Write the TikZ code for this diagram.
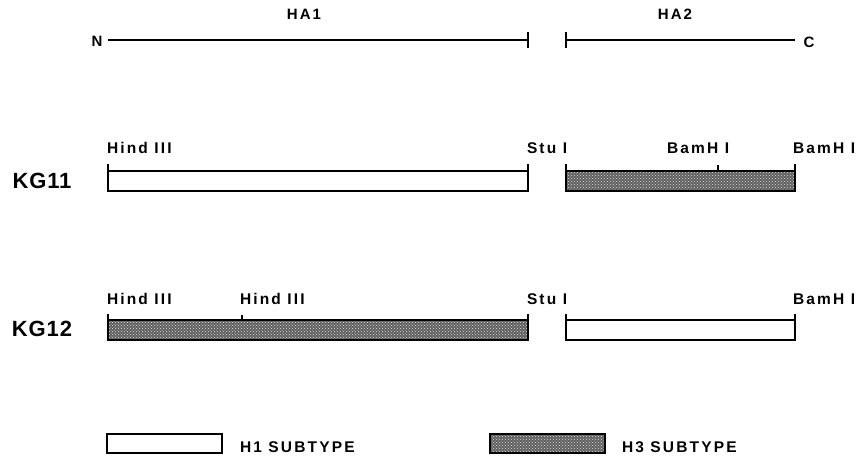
\documentclass[tikz,border=0pt]{standalone}
\usepackage{fontspec}
\newfontfamily\lblfont[LetterSpace=14]{Liberation Sans}
\newfontfamily\rowfont[LetterSpace=4]{Liberation Sans}
\usetikzlibrary{patterns}
\begin{document}
\begin{tikzpicture}[
                x=1pt, y=-1pt,
                line width=1.3pt,
                every node/.style={inner sep=0pt, outer sep=0pt},
                site/.style={anchor=base west, font=\lblfont\bfseries\fontsize{15.5}{16}\selectfont},
                term/.style={font=\lblfont\bfseries\fontsize{15}{16}\selectfont},
                rowlabel/.style={font=\rowfont\bfseries\fontsize{22}{24}\selectfont},
                hone/.style={draw, fill=white, anchor=north west, minimum height=20pt},
                hthree/.style={draw, anchor=north west, minimum height=20pt,
                    preaction={fill=black!62}, pattern=crosshatch dots, pattern color=white!85!black},
            ]
            \useasboundingbox (0,0) rectangle (857,456);
            % HA1 / HA2 map
            \node[term] (nterm) at (97,41) {N};
            \node[term] (cterm) at (809,42) {C};
            \coordinate (ha1start) at (108,40);
            \coordinate (ha1end) at (528,40);
            \coordinate (ha2start) at (566,40);
            \coordinate (ha2end) at (795,40);
            \draw (ha1start) -- (ha1end);
            \draw (ha2start) -- (ha2end);
            \draw (ha1end) ++(0,-8) -- ++(0,16);
            \draw (ha2start) ++(0,-8) -- ++(0,16);
            \node[term] (ha1) at (304,14) {HA1};
            \node[term] (ha2) at (675,14) {HA2};
            % KG11
            \node[rowlabel] (kg11) at (42,181) {KG11};
            \node[hone, minimum width=420pt] (kg11a) at (108,171) {};
            \node[hthree, minimum width=229pt] (kg11b) at (566,171) {};
            \draw (kg11a.north west) -- ++(0,-7);
            \draw (kg11a.north east) -- ++(0,-7);
            \draw (kg11b.north west) -- ++(0,-7);
            \draw (kg11b.north east) -- ++(0,-7);
            \draw (718,171) coordinate (bam11) -- ++(0,-6);
            \node[site] (hind11) at (107,153) {Hind III};
            \node[site] (stu11) at (527,153) {Stu I};
            \node[site] (bamin11) at (667,153) {BamH I};
            \node[site] (bamend11) at (793,153) {BamH I};
            % KG12
            \node[rowlabel] (kg12) at (42,329) {KG12};
            \node[hthree, minimum width=420pt] (kg12a) at (108,320) {};
            \node[hone, minimum width=229pt] (kg12b) at (566,320) {};
            \draw (kg12a.north west) -- ++(0,-6);
            \draw (kg12a.north east) -- ++(0,-6);
            \draw (kg12b.north west) -- ++(0,-6);
            \draw (kg12b.north east) -- ++(0,-6);
            \draw (242,320) coordinate (hindb12) -- ++(0,-5);
            \node[site] (hind12) at (107,304) {Hind III};
            \node[site] (hindin12) at (240,304) {Hind III};
            \node[site] (stu12) at (527,304) {Stu I};
            \node[site] (bamend12) at (793,304) {BamH I};
            % legend
            \node[hone, minimum width=115pt, minimum height=19pt] (keyhone) at (107,434) {};
            \node[site] (keyhonetext) at (240,452) {H1 SUBTYPE};
            \node[hthree, minimum width=115pt, minimum height=19pt] (keyhthree) at (490,434) {};
            \node[site] (keyhthreetext) at (622,452) {H3 SUBTYPE};
            \end{tikzpicture}
\end{document}
